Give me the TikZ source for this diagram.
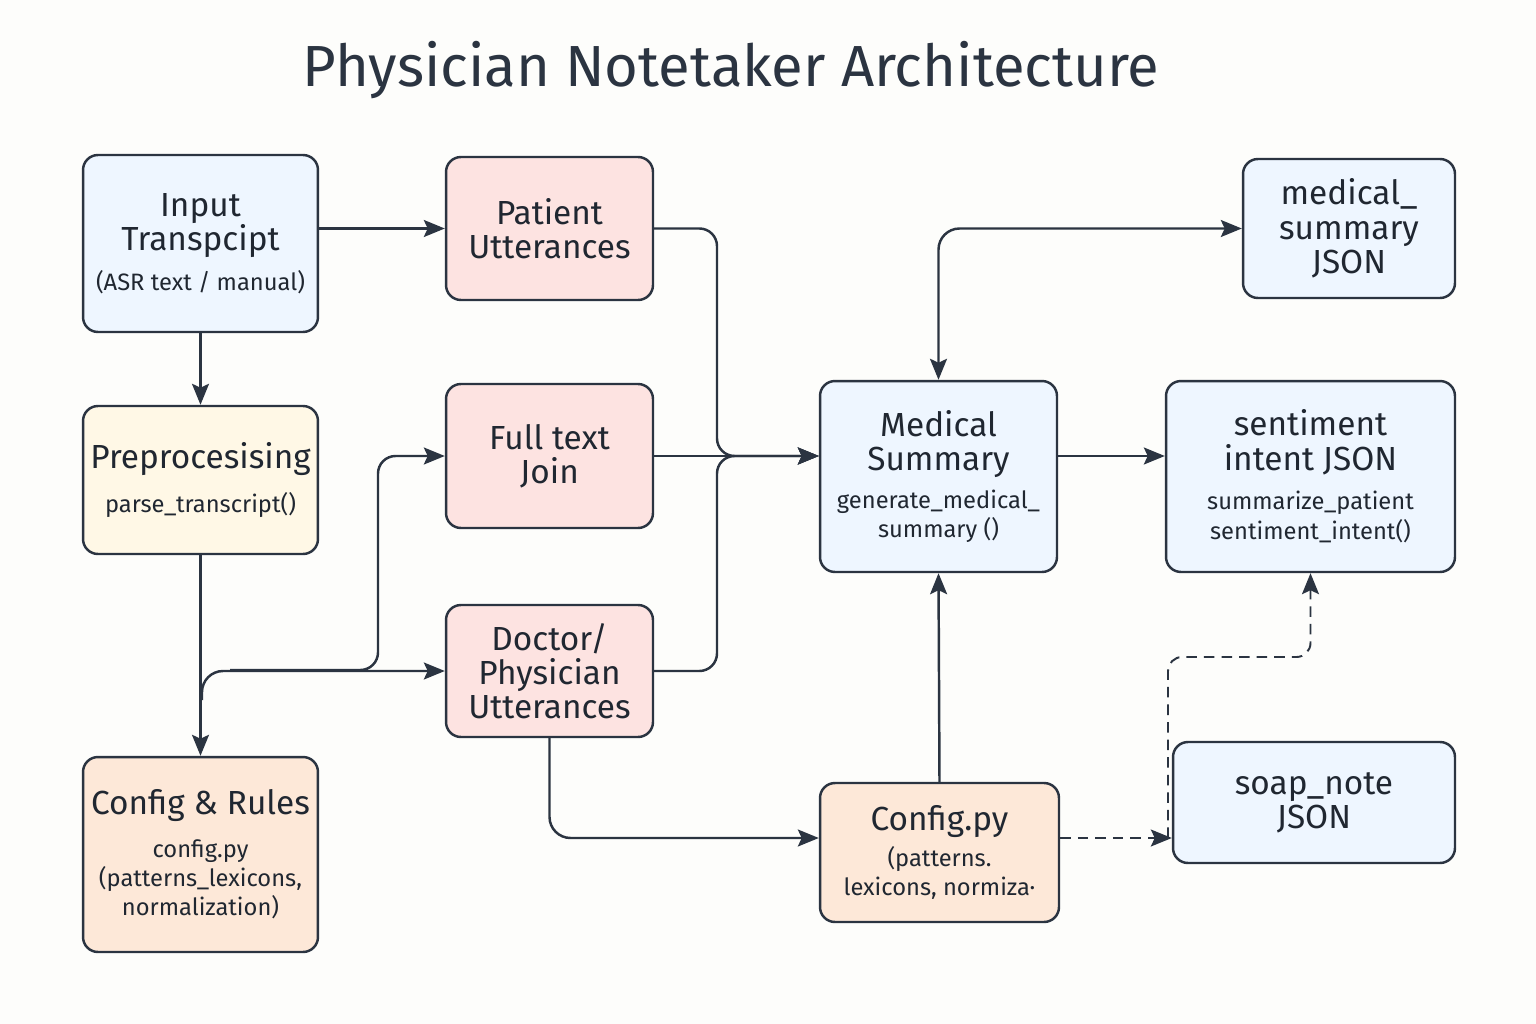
\documentclass[tikz,border=0pt]{standalone}
\usepackage{fontspec}
\setmainfont{Fira Sans}
\usetikzlibrary{arrows.meta,positioning,calc}
\definecolor{Ink}{HTML}{2B3441}
\definecolor{Paper}{HTML}{FDFDFB}
\definecolor{SoftBlue}{HTML}{EEF6FF}
\definecolor{SoftPink}{HTML}{FDE3E1}
\definecolor{SoftCream}{HTML}{FFF8E6}
\definecolor{SoftPeach}{HTML}{FDE8D8}
\newcommand{\subfont}{\fontsize{13.5}{16.5}\selectfont}

\begin{document}
\begin{tikzpicture}[x=0.02cm,y=-0.02cm,
  box/.style={rounded corners=8.5pt,draw=Ink,line width=1.4pt,align=center,inner sep=2pt,font=\fontsize{19}{19.5}\selectfont,text=Ink!75!black},
  bluebox/.style={box,fill=SoftBlue},
  pinkbox/.style={box,fill=SoftPink},
  creambox/.style={box,fill=SoftCream},
  peachbox/.style={box,fill=SoftPeach},
  arrow/.style={-{Stealth[length=4.2mm,width=3.4mm,inset=0.8mm]},line width=1.4pt,draw=Ink},
  biarrow/.style={{Stealth[length=4.2mm,width=3.4mm,inset=0.8mm]}-{Stealth[length=4.2mm,width=3.4mm,inset=0.8mm]},line width=1.4pt,draw=Ink},
  dasharrow/.style={arrow,line width=1.1pt,dash pattern=on 6pt off 4pt}
]
\fill[Paper] (0,0) rectangle (1536,1024);
\useasboundingbox (0,0) rectangle (1536,1024);

\node[font=\fontsize{33}{38}\selectfont,text=Ink] (title) at (731,70) {Physician Notetaker Architecture};

% left column
\node[bluebox,minimum width=4.70cm,minimum height=3.54cm] (input) at (200.5,243.5) {Input\\Transpcipt\\[3pt]\subfont (ASR text / manual)};
\node[creambox,minimum width=4.70cm,minimum height=2.96cm] (preproc) at (200.5,480) {Preprocesising\\[5pt]\subfont parse\_transcript()};
\node[peachbox,minimum width=4.70cm,minimum height=3.90cm] (cfgrules) at (200.5,854.5) {Config \& Rules\\[5pt]\subfont config.py\\[-3pt]\subfont (patterns\_lexicons,\\[-3pt]\subfont normalization)};

% utterances
\node[pinkbox,minimum width=4.14cm,minimum height=2.86cm] (patient) at (549.5,228.5) {Patient\\Utterances};
\node[pinkbox,minimum width=4.14cm,minimum height=2.88cm] (fulltext) at (549.5,456) {Full text\\Join};
\node[pinkbox,minimum width=4.14cm,minimum height=2.64cm] (doctor) at (549.5,671) {Doctor/\\Physician\\Utterances};

% core
\node[bluebox,minimum width=4.74cm,minimum height=3.82cm] (medsum) at (938.5,476.5) {Medical\\Summary\\[2pt]\subfont generate\_medical\_\\[-2.5pt]\subfont summary ()};
\node[peachbox,minimum width=4.78cm,minimum height=2.78cm] (configpy) at (939.5,852.5) {Config.py\\[1pt]\subfont (patterns.\\[-3pt]\subfont lexicons, normiza·};

% outputs
\node[bluebox,minimum width=4.24cm,minimum height=2.78cm] (medjson) at (1349,228.5) {medical\_\\summary\\JSON};
\node[bluebox,minimum width=5.78cm,minimum height=3.82cm] (sentjson) at (1310.5,476.5) {sentiment\\intent JSON\\[3pt]\subfont summarize\_patient\\[-2.5pt]\subfont sentiment\_intent()};
\node[bluebox,minimum width=5.64cm,minimum height=2.42cm] (soap) at (1314,802.5) {soap\_note\\JSON};

\coordinate (split) at (202,700);
\coordinate (fork) at (230,670);
\coordinate (jog) at (378,670);
\coordinate (merge) at (717,456);
\coordinate (cfgout) at ([yshift=0.29cm]configpy.east);
\coordinate (dashturn) at (1168,657);

\draw[arrow] (input.east |- patient.west) -- (patient.west);
\draw[arrow] (input.south) -- (preproc.north);
\draw[arrow] (preproc.south) -- (cfgrules.north);
\draw[arrow,rounded corners=12pt] (split) |- (doctor.west);
\draw[arrow,rounded corners=10pt] (fork) -- (jog) |- (fulltext.west);
\draw[arrow,rounded corners=10pt] (patient.east) -| (merge) -- (medsum.west |- merge);
\draw[arrow,rounded corners=10pt] (doctor.east) -| (merge) -- (medsum.west |- merge);
\draw[arrow] (fulltext.east) -- (medsum.west |- merge);
\draw[arrow,rounded corners=12pt] (doctor.south) |- ([yshift=0.29cm]configpy.west);
\draw[arrow] (configpy.north) -- (medsum.south);
\draw[biarrow,rounded corners=12pt] (medsum.north) |- (medjson.west);
\draw[arrow] (medsum.east |- merge) -- (sentjson.west |- merge);
\draw[dasharrow] (cfgout) -- (soap.west |- cfgout);
\draw[dasharrow,rounded corners=8pt] (dashturn |- cfgout) -- (dashturn) -| (sentjson.south);
\end{tikzpicture}
\end{document}
